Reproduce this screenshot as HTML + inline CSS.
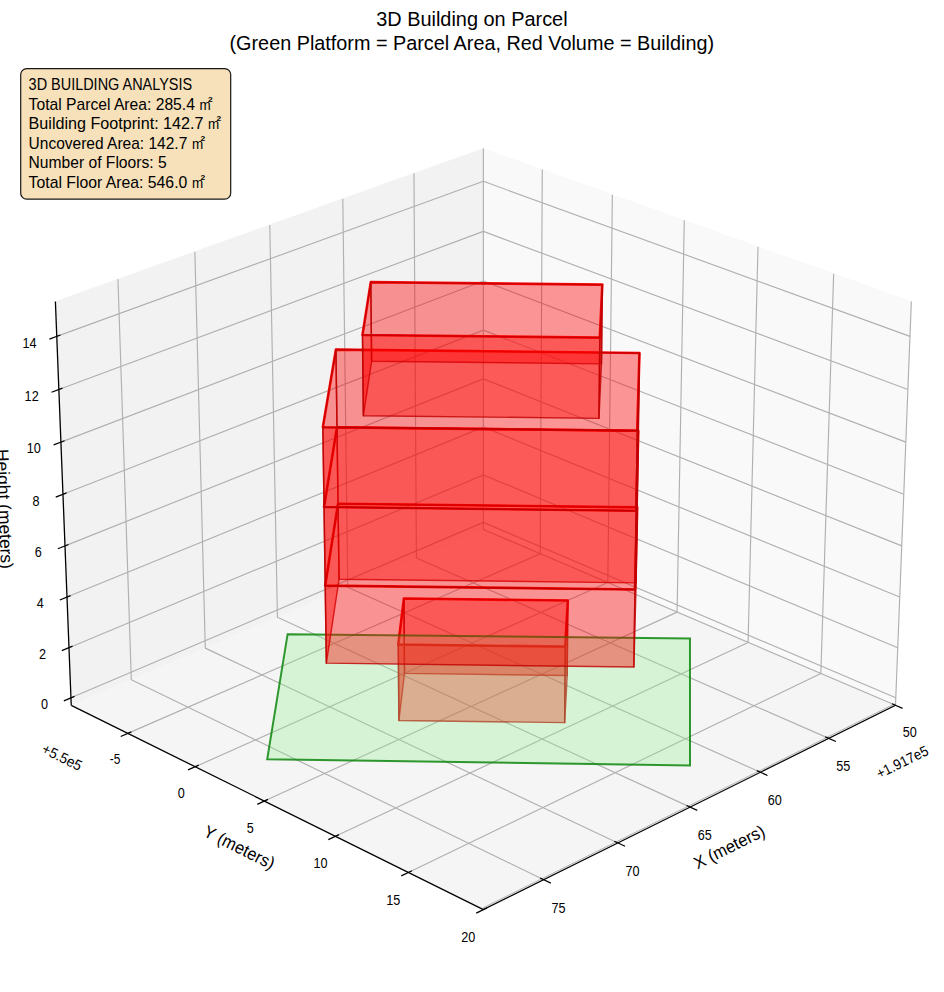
<!DOCTYPE html>
<html><head><meta charset="utf-8"><title>3D Building on Parcel</title>
<style>
html,body{margin:0;padding:0;background:#fff;}
body{width:944px;height:992px;overflow:hidden;font-family:"Liberation Sans",sans-serif;}
svg{display:block;}
</style></head><body>
<svg width="944" height="992" viewBox="0 0 944 992">
<rect width="944" height="992" fill="#fff"/>
<polygon points="483.37,529.48 895.49,705.31 911.34,301.53 483.37,148.55" fill="#f9f9f9" stroke="#f9f9f9" stroke-width="0.6"/>
<polygon points="483.37,529.48 71.25,705.31 55.40,301.53 483.37,148.55" fill="#f2f2f2" stroke="#f2f2f2" stroke-width="0.6"/>
<polygon points="483.37,529.48 71.25,705.31 483.37,909.61 895.49,705.31" fill="#f5f5f5" stroke="#f5f5f5" stroke-width="0.6"/>
<g fill="none" stroke="#b0b0b0" stroke-width="1.15" stroke-linejoin="round">
<polyline points="895.49,705.31 483.37,529.48 483.37,148.55"/>
<polyline points="828.83,738.36 416.39,558.05 413.97,173.36"/>
<polyline points="760.39,772.28 347.76,587.34 342.80,198.80"/>
<polyline points="690.12,807.12 277.42,617.35 269.79,224.90"/>
<polyline points="617.93,842.91 205.30,648.12 194.86,251.68"/>
<polyline points="543.75,879.68 131.34,679.67 117.94,279.17"/>
<polyline points="542.27,169.61 540.22,553.73 127.82,733.36"/>
<polyline points="612.36,194.66 607.82,582.57 195.21,766.76"/>
<polyline points="684.25,220.35 677.08,612.13 264.38,801.05"/>
<polyline points="757.99,246.71 748.07,642.41 335.42,836.27"/>
<polyline points="833.66,273.76 820.85,673.47 408.39,872.44"/>
<polyline points="911.34,301.53 895.49,705.31 483.37,909.61"/>
<polyline points="70.96,697.83 483.37,522.40 895.78,697.83"/>
<polyline points="68.99,647.67 483.37,474.97 897.75,647.67"/>
<polyline points="67.00,597.03 483.37,427.12 899.74,597.03"/>
<polyline points="64.99,545.90 483.37,378.85 901.75,545.90"/>
<polyline points="62.97,494.28 483.37,330.13 903.77,494.28"/>
<polyline points="60.92,442.15 483.37,280.98 905.82,442.15"/>
<polyline points="58.85,389.51 483.37,231.38 907.89,389.51"/>
<polyline points="56.77,336.36 483.37,181.33 909.97,336.36"/>
</g>
<line x1="894.74" y1="703.81" x2="482.62" y2="908.11" stroke="#b0b0b0" stroke-width="1.0"/>
<g fill="none" stroke="#000" stroke-width="1.3" stroke-linecap="butt">
<line x1="895.49" y1="705.31" x2="483.37" y2="909.61" stroke-width="1.1"/>
<line x1="71.25" y1="705.31" x2="483.37" y2="909.61"/>
<line x1="71.25" y1="705.31" x2="55.40" y2="301.53"/>
</g><g fill="none" stroke="#000" stroke-width="1.25">
<line x1="891.95" y1="703.80" x2="902.59" y2="708.34"/>
<line x1="825.28" y1="736.81" x2="835.93" y2="741.47"/>
<line x1="756.84" y1="770.69" x2="767.51" y2="775.47"/>
<line x1="686.56" y1="805.48" x2="697.25" y2="810.40"/>
<line x1="614.37" y1="841.23" x2="625.06" y2="846.27"/>
<line x1="540.19" y1="877.95" x2="550.88" y2="883.14"/>
<line x1="131.37" y1="731.81" x2="120.72" y2="736.45"/>
<line x1="198.76" y1="765.18" x2="188.09" y2="769.94"/>
<line x1="267.94" y1="799.43" x2="257.26" y2="804.32"/>
<line x1="338.98" y1="834.60" x2="328.29" y2="839.62"/>
<line x1="411.95" y1="870.72" x2="401.25" y2="875.88"/>
<line x1="486.93" y1="907.85" x2="476.23" y2="913.15"/>
<line x1="74.50" y1="696.32" x2="63.85" y2="700.85"/>
<line x1="72.55" y1="646.19" x2="61.85" y2="650.64"/>
<line x1="70.58" y1="595.57" x2="59.82" y2="599.96"/>
<line x1="68.59" y1="544.46" x2="57.78" y2="548.78"/>
<line x1="66.58" y1="492.86" x2="55.72" y2="497.11"/>
<line x1="64.56" y1="440.76" x2="53.63" y2="444.93"/>
<line x1="62.51" y1="388.15" x2="51.53" y2="392.24"/>
<line x1="60.44" y1="335.02" x2="49.40" y2="339.04"/>
</g>
<g fill="none" stroke="rgb(255,0,0)" stroke-opacity="0.95" stroke-width="2.6" stroke-linejoin="round">
<polygon points="403.93,598.52 398.27,644.53 565.25,646.64 567.80,600.56"/>
</g>
<g fill="rgb(255,0,0)" fill-opacity="0.4" stroke="rgb(190,0,0)" stroke-opacity="0.8" stroke-width="1.45" stroke-linejoin="round">
<polygon points="404.50,673.38 567.20,675.47 567.80,600.56 403.93,598.52"/>
<polygon points="404.50,673.38 398.89,720.46 398.27,644.53 403.93,598.52"/>
<polygon points="567.20,675.47 564.66,722.63 565.25,646.64 567.80,600.56"/>
<polygon points="398.89,720.46 564.66,722.63 565.25,646.64 398.27,644.53"/>
</g>
<polygon points="287.62,634.15 689.98,638.55 690.02,765.38 267.20,759.22" fill="rgb(144,238,144)" fill-opacity="0.3" stroke="rgb(0,128,0)" stroke-opacity="0.8" stroke-width="2.0" stroke-linejoin="miter"/>
<g fill="none" stroke="rgb(255,0,0)" stroke-opacity="0.95" stroke-width="2.6" stroke-linejoin="round">
<polygon points="338.02,503.76 325.21,585.64 634.96,589.47 637.23,507.33"/>
<polygon points="336.98,427.23 324.04,506.99 636.09,510.73 638.33,430.71"/>
<polygon points="335.93,349.59 322.85,427.18 637.23,430.81 639.45,352.98"/>
<polygon points="370.79,282.16 362.48,334.99 599.81,337.62 602.31,284.67"/>
</g>
<g fill="rgb(255,0,0)" fill-opacity="0.4" stroke="rgb(190,0,0)" stroke-opacity="0.8" stroke-width="1.45" stroke-linejoin="round">
<polygon points="339.05,579.21 636.14,582.88 637.23,507.33 338.02,503.76"/>
<polygon points="339.05,579.21 326.36,663.13 325.21,585.64 338.02,503.76"/>
<polygon points="636.14,582.88 633.85,667.06 634.96,589.47 637.23,507.33"/>
<polygon points="326.36,663.13 633.85,667.06 634.96,589.47 325.21,585.64"/>
<polygon points="338.02,503.76 637.23,507.33 638.33,430.71 336.98,427.23"/>
<polygon points="338.02,503.76 325.21,585.64 324.04,506.99 336.98,427.23"/>
<polygon points="637.23,507.33 634.96,589.47 636.09,510.73 638.33,430.71"/>
<polygon points="325.21,585.64 634.96,589.47 636.09,510.73 324.04,506.99"/>
<polygon points="336.98,427.23 638.33,430.71 639.45,352.98 335.93,349.59"/>
<polygon points="336.98,427.23 324.04,506.99 322.85,427.18 335.93,349.59"/>
<polygon points="638.33,430.71 636.09,510.73 637.23,430.81 639.45,352.98"/>
<polygon points="324.04,506.99 636.09,510.73 637.23,430.81 322.85,427.18"/>
<polygon points="371.61,361.27 601.45,363.85 602.31,284.67 370.79,282.16"/>
<polygon points="371.61,361.27 363.38,415.67 362.48,334.99 370.79,282.16"/>
<polygon points="601.45,363.85 598.95,418.38 599.81,337.62 602.31,284.67"/>
<polygon points="363.38,415.67 598.95,418.38 599.81,337.62 362.48,334.99"/>
</g>
<g font-family="Liberation Sans, sans-serif" fill="#000">
<text x="902.69" y="737.47" font-size="14.7" text-anchor="start" textLength="14.06" lengthAdjust="spacingAndGlyphs">50</text>
<text x="836.13" y="770.81" font-size="14.7" text-anchor="start" textLength="14.06" lengthAdjust="spacingAndGlyphs">55</text>
<text x="767.80" y="805.04" font-size="14.7" text-anchor="start" textLength="14.06" lengthAdjust="spacingAndGlyphs">60</text>
<text x="697.63" y="840.19" font-size="14.7" text-anchor="start" textLength="14.06" lengthAdjust="spacingAndGlyphs">65</text>
<text x="625.54" y="876.30" font-size="14.7" text-anchor="start" textLength="14.06" lengthAdjust="spacingAndGlyphs">70</text>
<text x="551.46" y="913.40" font-size="14.7" text-anchor="start" textLength="14.06" lengthAdjust="spacingAndGlyphs">75</text>
<text x="109.81" y="764.26" font-size="14.7" text-anchor="start" textLength="10.60" lengthAdjust="spacingAndGlyphs">-5</text>
<text x="177.77" y="797.97" font-size="14.7" text-anchor="start" textLength="7.03" lengthAdjust="spacingAndGlyphs">0</text>
<text x="246.84" y="832.57" font-size="14.7" text-anchor="start" textLength="7.03" lengthAdjust="spacingAndGlyphs">5</text>
<text x="313.47" y="868.10" font-size="14.7" text-anchor="start" textLength="14.06" lengthAdjust="spacingAndGlyphs">10</text>
<text x="386.33" y="904.60" font-size="14.7" text-anchor="start" textLength="14.06" lengthAdjust="spacingAndGlyphs">15</text>
<text x="461.22" y="942.11" font-size="14.7" text-anchor="start" textLength="14.06" lengthAdjust="spacingAndGlyphs">20</text>
<text x="41.03" y="709.06" font-size="14.7" text-anchor="start" textLength="7.03" lengthAdjust="spacingAndGlyphs">0</text>
<text x="38.93" y="658.90" font-size="14.7" text-anchor="start" textLength="7.03" lengthAdjust="spacingAndGlyphs">2</text>
<text x="36.81" y="608.26" font-size="14.7" text-anchor="start" textLength="7.03" lengthAdjust="spacingAndGlyphs">4</text>
<text x="34.67" y="557.13" font-size="14.7" text-anchor="start" textLength="7.03" lengthAdjust="spacingAndGlyphs">6</text>
<text x="32.50" y="505.51" font-size="14.7" text-anchor="start" textLength="7.03" lengthAdjust="spacingAndGlyphs">8</text>
<text x="26.81" y="453.38" font-size="14.7" text-anchor="start" textLength="14.06" lengthAdjust="spacingAndGlyphs">10</text>
<text x="24.61" y="400.74" font-size="14.7" text-anchor="start" textLength="14.06" lengthAdjust="spacingAndGlyphs">12</text>
<text x="22.38" y="347.59" font-size="14.7" text-anchor="start" textLength="14.06" lengthAdjust="spacingAndGlyphs">14</text>
<text font-size="17.5" text-anchor="start" textLength="77.00" lengthAdjust="spacingAndGlyphs" transform="translate(729.60 847.60) rotate(-26.37)" x="-38.50" y="5.25">X (meters)</text>
<text font-size="17.5" text-anchor="start" textLength="77.00" lengthAdjust="spacingAndGlyphs" transform="translate(239.00 848.00) rotate(26.37)" x="-38.50" y="5.25">Y (meters)</text>
<text font-size="17.5" text-anchor="start" textLength="120.00" lengthAdjust="spacingAndGlyphs" transform="translate(2.80 509.00) rotate(87.75)" x="-60.00" y="4.15">Height (meters)</text>
<text font-size="14.7" text-anchor="start" textLength="56" lengthAdjust="spacingAndGlyphs" transform="translate(927.2 749.4) rotate(-26.37)" x="-56" y="5.29">+1.917e5</text>
<text font-size="14.7" text-anchor="start" textLength="42.5" lengthAdjust="spacingAndGlyphs" transform="translate(43.2 747.6) rotate(26.37)" x="0" y="5.29">+5.5e5</text>
<text x="376.20" y="25.60" font-size="19.9" text-anchor="start" textLength="191.40" lengthAdjust="spacingAndGlyphs">3D Building on Parcel</text>
<text x="229.50" y="49.60" font-size="19.9" text-anchor="start" textLength="484.60" lengthAdjust="spacingAndGlyphs">(Green Platform = Parcel Area, Red Volume = Building)</text>
</g>
<rect x="20.7" y="68.6" width="210.0" height="130.6" rx="6" ry="6" fill="rgb(245,222,179)" fill-opacity="0.9" stroke="#000" stroke-opacity="0.9" stroke-width="1.2"/>
<g font-family="Liberation Sans, sans-serif" fill="#000">
<text x="28.60" y="89.70" font-size="16.2" text-anchor="start" textLength="163.50" lengthAdjust="spacingAndGlyphs">3D BUILDING ANALYSIS</text>
<text x="28.60" y="109.60" font-size="16.2" text-anchor="start" textLength="166.30" lengthAdjust="spacingAndGlyphs">Total Parcel Area: 285.4</text>
<text x="199.50" y="109.60" font-size="14.6" textLength="11.2" lengthAdjust="spacingAndGlyphs">m</text>
<text x="208.00" y="101.60" font-size="7.6" font-weight="bold" textLength="4.7" lengthAdjust="spacingAndGlyphs">2</text>
<text x="28.60" y="128.80" font-size="16.2" text-anchor="start" textLength="174.90" lengthAdjust="spacingAndGlyphs">Building Footprint: 142.7</text>
<text x="208.10" y="128.80" font-size="14.6" textLength="11.2" lengthAdjust="spacingAndGlyphs">m</text>
<text x="216.60" y="120.80" font-size="7.6" font-weight="bold" textLength="4.7" lengthAdjust="spacingAndGlyphs">2</text>
<text x="28.60" y="148.60" font-size="16.2" text-anchor="start" textLength="158.70" lengthAdjust="spacingAndGlyphs">Uncovered Area: 142.7</text>
<text x="191.90" y="148.60" font-size="14.6" textLength="11.2" lengthAdjust="spacingAndGlyphs">m</text>
<text x="200.40" y="140.60" font-size="7.6" font-weight="bold" textLength="4.7" lengthAdjust="spacingAndGlyphs">2</text>
<text x="28.60" y="168.40" font-size="16.2" text-anchor="start" textLength="138.00" lengthAdjust="spacingAndGlyphs">Number of Floors: 5</text>
<text x="28.60" y="187.70" font-size="16.2" text-anchor="start" textLength="158.70" lengthAdjust="spacingAndGlyphs">Total Floor Area: 546.0</text>
<text x="191.90" y="187.70" font-size="14.6" textLength="11.2" lengthAdjust="spacingAndGlyphs">m</text>
<text x="200.40" y="179.70" font-size="7.6" font-weight="bold" textLength="4.7" lengthAdjust="spacingAndGlyphs">2</text>
</g>
</svg>
</body></html>
